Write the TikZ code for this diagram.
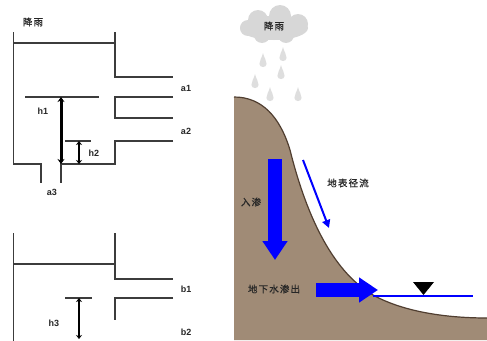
\documentclass[tikz,border=0pt]{standalone}
\usepackage{fontspec}
\setmainfont{Liberation Sans}
\newfontfamily\cjk[LetterSpace=12,FakeBold=0.6]{Noto Sans CJK SC}
\usetikzlibrary{arrows.meta}
\definecolor{wallgray}{RGB}{60,60,60}
\definecolor{soil}{RGB}{160,139,118}
\definecolor{soilline}{RGB}{80,62,48}
\definecolor{cloudgray}{RGB}{215,215,215}
\definecolor{dropgray}{RGB}{222,222,222}
\definecolor{flowblue}{RGB}{0,0,255}
\tikzset{
  wall/.style={draw=wallgray, line width=1.6pt},
  lbl/.style={font=\bfseries\fontsize{9}{10}\selectfont, text=black!85, inner sep=0pt},
  cjklbl/.style={font=\cjk\fontsize{9.5}{10}\selectfont, text=black!85, inner sep=0pt},
  bigarrow/.style={draw=black, line width=3pt, {Stealth[length=5pt,width=7pt]}-{Stealth[length=5pt,width=7pt]}},
  smallarrow/.style={draw=black, line width=2pt, {Stealth[length=4pt,width=6pt]}-{Stealth[length=4pt,width=6pt]}},
  flow/.style={draw=flowblue, line width=14pt, -{Triangle[length=19pt,width=24pt]}},
  thinflow/.style={draw=flowblue, line width=2pt, -{Triangle[length=8pt,width=8pt]}},
}
\begin{document}
\begin{tikzpicture}[x=1pt,y=-1pt]
\useasboundingbox (0,0) rectangle (487,340);

% ---------- upper tank ----------
\node[cjklbl] (title) at (33,22) {降雨};
\draw[wall] (13.5,32) -- (13.5,164) -- (40.7,164) -- (40.7,183);
\draw[wall] (13.5,43) -- (115,43);
\draw[wall] (115,32) -- (115,77) -- (173,77);
\draw[wall] (173,97) -- (115,97) -- (115,118) -- (173,118);
\draw[wall] (173,141) -- (115,141) -- (115,164) -- (61,164) -- (61,183);
\draw[wall] (25,97) -- (99,97);
\draw[wall] (65,141) -- (91,141);
\coordinate (h1top) at (61,97);
\coordinate (h1bot) at (61,164);
\coordinate (h2top) at (79,141);
\coordinate (h2bot) at (79,164);
\draw[bigarrow] (h1top) -- (h1bot);
\draw[smallarrow] (h2top) -- (h2bot);
\node[lbl] (h1) at (43,111) {h1};
\node[lbl] (h2) at (94,153) {h2};
\node[lbl] (a1) at (186,88) {a1};
\node[lbl] (a2) at (186,131) {a2};
\node[lbl] (a3) at (52,192) {a3};

% ---------- lower tank ----------
\draw[wall] (13.5,233) -- (13.5,341);
\draw[wall] (13.5,264) -- (115,264);
\draw[wall] (115,233) -- (115,279) -- (173,279);
\draw[wall] (173,298) -- (115,298) -- (115,320);
\draw[wall] (65,298) -- (92,298);
\coordinate (h3top) at (79,298);
\coordinate (h3bot) at (79,339);
\draw[smallarrow] (h3top) -- (h3bot);
\node[lbl] (h3) at (54,323) {h3};
\node[lbl] (b1) at (186,289) {b1};
\node[lbl] (b2) at (186,332) {b2};

% ---------- hillslope ----------
\fill[soil] (234,97) .. controls (262,97) and (280,117) .. (290,150)
  .. controls (305,210) and (330,270) .. (373,295)
  .. controls (400,310) and (440,318) .. (487,318)
  -- (487,340) -- (234,340) -- cycle;
\draw[soilline, line width=1.2pt] (234,97) .. controls (262,97) and (280,117) .. (290,150)
  .. controls (305,210) and (330,270) .. (373,295)
  .. controls (400,310) and (440,318) .. (487,318);

% ---------- cloud and rain ----------
\begin{scope}[fill=cloudgray]
  \fill (274,28) ellipse [x radius=34, y radius=12];
  \fill (258,20) circle [radius=10];
  \fill (280,16) circle [radius=11];
  \fill (298,24) circle [radius=10];
  \fill (262,35) circle [radius=8];
  \fill (286,35) circle [radius=8];
  \fill (248,28) circle [radius=8];
\end{scope}
\node[cjklbl] (rain) at (274,26) {降雨};
\foreach \dx/\dy in {263/61, 283/55, 281/73, 255/82, 270/95, 298/95}{
  \fill[dropgray, shift={(\dx,\dy)}] (0,-8) .. controls (1,-3) and (3.8,-1) .. (3.6,3)
    .. controls (3.3,7) and (-3.3,7) .. (-3.6,3)
    .. controls (-3.8,-1) and (-1,-3) .. cycle;
}

% ---------- water flows ----------
\coordinate (infA) at (275,159);
\coordinate (infB) at (275,260);
\draw[flow] (infA) -- (infB);
\node[cjklbl] (inf) at (251,202) {入渗};

\coordinate (runA) at (303,160);
\coordinate (runB) at (329,228);
\draw[thinflow] (runA) -- (runB);
\node[cjklbl] (run) at (348,183) {地表径流};

\coordinate (seepA) at (316,290);
\coordinate (seepB) at (378,290);
\draw[flow] (seepA) -- (seepB);
\node[cjklbl] (seep) at (274,289) {地下水渗出};

% water table
\coordinate (wtA) at (373,296);
\coordinate (wtB) at (473,296);
\draw[flowblue, line width=2pt] (wtA) -- (wtB);
\fill[black] (413,282) -- (434,282) -- (423.5,295) -- cycle;
\end{tikzpicture}
\end{document}
